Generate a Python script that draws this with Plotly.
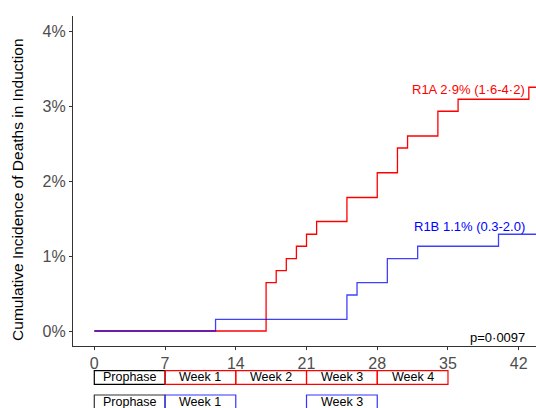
import plotly.graph_objects as go

# ---- data ----
r1a_days = [0, 17, 18, 19, 20, 21, 22, 25, 28, 30, 31, 34, 36, 43, 45]
r1a_pct = [0, 0.645, 0.805, 0.965, 1.13, 1.29, 1.46, 1.78, 2.11, 2.44, 2.60, 2.93, 3.09, 3.25, 3.25]
r1b_days = [0, 12, 25, 26, 29, 32, 40, 45]
r1b_pct = [0, 0.156, 0.48, 0.645, 0.965, 1.13, 1.29, 1.29]

x_ticks = [0, 7, 14, 21, 28, 35, 42]
y_ticks = [0, 1, 2, 3, 4]
y_tick_labels = ["0%", "1%", "2%", "3%", "4%"]

r1a_label = "R1A 2·9% (1·6-4·2)"
r1b_label = "R1B 1.1% (0.3-2.0)"
p_label = "p=0·0097"
y_title = "Cumulative Incidence of Deaths in Induction"

# timeline rows: (label, start day, end day, border colour)
row1_labels = ["Prophase", "Week 1", "Week 2", "Week 3", "Week 4"]
row1_starts = [0, 7, 14, 21, 28]
row1_ends = [7, 14, 21, 28, 35]
row1_colors = ["#000000", "#FF0000", "#FF0000", "#FF0000", "#FF0000"]
row2_labels = ["Prophase", "Week 1", "Week 3"]
row2_starts = [0, 7, 21]
row2_ends = [7, 14, 28]
row2_colors = ["#333333", "#3333FF", "#3333FF"]

FONT = "Arial, Liberation Sans, sans-serif"

fig = go.Figure()
fig.add_trace(go.Scatter(x=r1a_days, y=r1a_pct, mode="lines", line=dict(color="#FF0000", width=1.3, shape="hv"),
                         showlegend=False, hoverinfo="skip"))
fig.add_trace(go.Scatter(x=r1b_days, y=r1b_pct, mode="lines", line=dict(color="#0000FF", width=1.3, shape="hv"),
                         opacity=0.75, showlegend=False, hoverinfo="skip"))

shapes = []
annotations = []

def add_row(labels, starts, ends, colors, y0, y1):
    for lab, s, e, c in zip(labels, starts, ends, colors):
        shapes.append(dict(type="rect", xref="x", yref="paper", x0=s, x1=e, y0=y0, y1=y1,
                           line=dict(color=c, width=1.2), fillcolor="rgba(0,0,0,0)", layer="above"))
        annotations.append(dict(xref="x", yref="paper", x=(s + e) / 2, y=(y0 + y1) / 2, text=lab,
                                showarrow=False, font=dict(family=FONT, size=12.5, color="#000000"),
                                xanchor="center", yanchor="middle"))

add_row(row1_labels, row1_starts, row1_ends, row1_colors, -0.116, -0.0748)
add_row(row2_labels, row2_starts, row2_ends, row2_colors, -0.192, -0.1485)

annotations.append(dict(xref="x", yref="y", x=42.8, y=3.22, text=r1a_label, showarrow=False,
                        xanchor="right", yanchor="middle", font=dict(family=FONT, size=13, color="#FF0000")))
annotations.append(dict(xref="x", yref="y", x=42.8, y=1.40, text=r1b_label, showarrow=False,
                        xanchor="right", yanchor="middle", font=dict(family=FONT, size=13, color="#0000FF")))
annotations.append(dict(xref="x", yref="y", x=42.8, y=-0.08, text=p_label, showarrow=False,
                        xanchor="right", yanchor="middle", font=dict(family=FONT, size=13, color="#000000")))
annotations.append(dict(xref="paper", yref="paper", x=-0.1188, y=0.473, text=y_title, showarrow=False,
                        textangle=-90, xanchor="center", yanchor="middle",
                        font=dict(family=FONT, size=15.5, color="#000000")))

# initial geometry assumes the default 8px page margin; the post script removes
# that margin and switches to the full-window geometry (same plot-area size)
fig.update_layout(
    width=528, height=400,
    margin=dict(l=65, r=0, t=8, b=62),
    paper_bgcolor="white", plot_bgcolor="white",
    shapes=shapes, annotations=annotations,
    font=dict(family=FONT),
    xaxis=dict(range=[-2.108, 43.71], tickvals=x_ticks, ticktext=[str(v) for v in x_ticks],
               showgrid=False, zeroline=False, showline=True, linecolor="#333333", linewidth=1.3,
               ticks="outside", ticklen=3, tickcolor="#333333", tickwidth=1.3,
               tickfont=dict(family=FONT, size=16, color="#4D4D4D")),
    yaxis=dict(range=[-0.2, 4.2], tickvals=y_ticks, ticktext=y_tick_labels,
               showgrid=False, zeroline=False, showline=True, linecolor="#333333", linewidth=1.3,
               ticks="outside", ticklen=3, tickcolor="#333333", tickwidth=1.3,
               tickfont=dict(family=FONT, size=16, color="#4D4D4D")),
)

post = (
    "document.body.style.margin='0';"
    "document.documentElement.style.overflow='hidden';"
    "var gd=document.getElementById('{plot_id}');"
    "Plotly.relayout(gd,{width:536,height:408,'margin.l':73,'margin.r':0,'margin.t':16,'margin.b':62});"
)
fig.write_html("out.html", post_script=post, config={"displayModeBar": False})
